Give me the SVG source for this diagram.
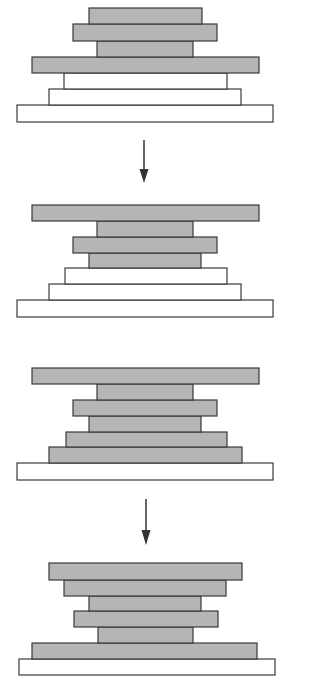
<svg xmlns="http://www.w3.org/2000/svg" width="324" height="678" viewBox="0 0 324 678">
<defs>
<style>
.g{fill:#b5b5b5;stroke:#3a3a3a;stroke-width:1.2}
.w{fill:#ffffff;stroke:#3a3a3a;stroke-width:1.2}
.a{stroke:#333;stroke-width:1.5;fill:none}
</style>
<marker id="ah" viewBox="0 0 10 14" refX="5" refY="14" markerWidth="7" markerHeight="14" markerUnits="userSpaceOnUse" orient="auto-start-reverse">
<path d="M0,0 L10,0 L5,14 Z" fill="#333" transform="rotate(0)"/>
</marker>
</defs>
<rect width="324" height="678" fill="#fff"/>
<g id="stack1">
<rect class="w" x="17" y="105" width="256" height="17"/>
<rect class="w" x="49" y="89" width="192" height="16"/>
<rect class="w" x="64" y="73" width="163" height="16"/>
<rect class="g" x="32" y="57" width="227" height="16"/>
<rect class="g" x="97" y="41" width="96" height="16"/>
<rect class="g" x="73" y="24" width="144" height="17"/>
<rect class="g" x="89" y="8" width="113" height="16"/>
</g>
<g id="stack2">
<rect class="w" x="17" y="300" width="256" height="17"/>
<rect class="w" x="49" y="284" width="192" height="16"/>
<rect class="w" x="65" y="268" width="162" height="16"/>
<rect class="g" x="89" y="253" width="112" height="15"/>
<rect class="g" x="73" y="237" width="144" height="16"/>
<rect class="g" x="97" y="221" width="96" height="16"/>
<rect class="g" x="32" y="205" width="227" height="16"/>
</g>
<g id="stack3">
<rect class="w" x="17" y="463" width="256" height="17"/>
<rect class="g" x="49" y="447" width="193" height="16"/>
<rect class="g" x="66" y="432" width="161" height="15"/>
<rect class="g" x="89" y="416" width="112" height="16"/>
<rect class="g" x="73" y="400" width="144" height="16"/>
<rect class="g" x="97" y="384" width="96" height="16"/>
<rect class="g" x="32" y="368" width="227" height="16"/>
</g>
<g id="stack4">
<rect class="w" x="19" y="659" width="256" height="16"/>
<rect class="g" x="32" y="643" width="225" height="16"/>
<rect class="g" x="98" y="627" width="95" height="16"/>
<rect class="g" x="74" y="611" width="144" height="16"/>
<rect class="g" x="89" y="596" width="112" height="15"/>
<rect class="g" x="64" y="580" width="162" height="16"/>
<rect class="g" x="49" y="563" width="193" height="17"/>
</g>
<g id="connectors">
<line class="a" x1="144" y1="140" x2="144" y2="171"/>
<path d="M139.5,169 L148.5,169 L144,183 Z" fill="#333"/>
<line class="a" x1="146" y1="499" x2="146" y2="532"/>
<path d="M141.5,530 L150.5,530 L146,545 Z" fill="#333"/>
</g>
</svg>
